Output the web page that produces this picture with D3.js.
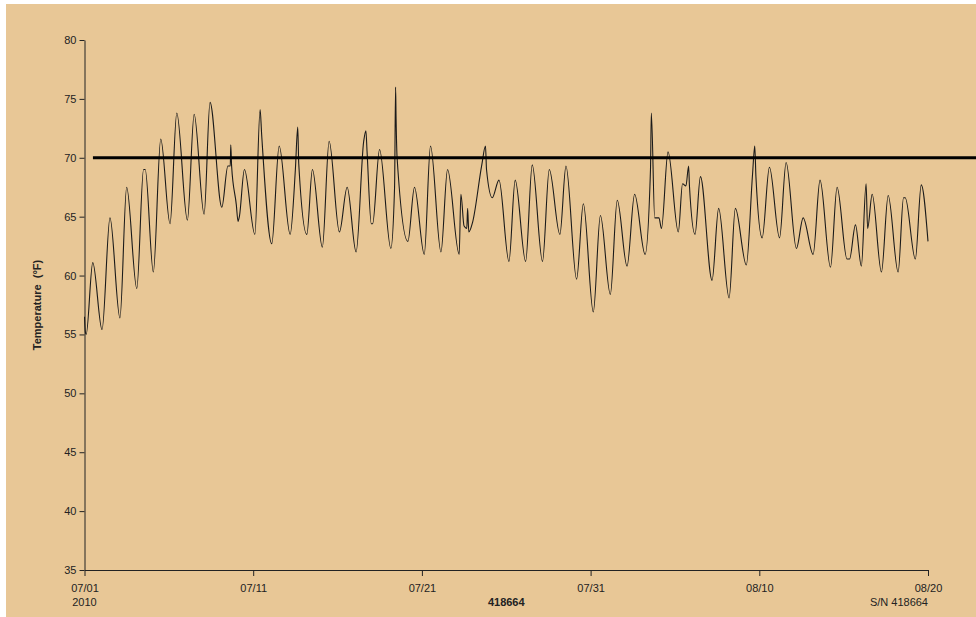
<!DOCTYPE html>
<html>
<head>
<meta charset="utf-8">
<script src="https://cdn.jsdelivr.net/npm/d3@7"></script>
<style>
html,body{margin:0;padding:0;background:#fff;}
svg{display:block;}
text{font-family:"Liberation Sans",Arial,sans-serif;font-size:11px;fill:#222;}
</style>
</head>
<body>
<script>
// ---- Data ----
// days since 2010-07-01 00:00
const sampleDays = [
  0.0, 0.05, 0.1, 0.49, 1.04, 1.51, 2.1, 2.5, 3.1, 3.5, 3.6, 4.08, 4.52, 5.07, 5.47, 6.1, 6.5, 7.09, 7.44, 8.14,
  8.5, 8.64, 8.67, 8.72, 9.0, 9.1, 9.18, 9.48, 10.1, 10.41, 10.5, 11.1, 11.54, 12.19, 12.5, 12.64, 12.7, 13.18, 13.51, 14.1,
  14.5, 15.11, 15.57, 16.1, 16.55, 16.68, 16.75, 17.0, 17.08, 17.49, 18.16, 18.38, 18.44, 18.47, 18.53, 19.17, 19.56, 20.14, 20.51, 21.13,
  21.52, 22.21, 22.31, 22.5, 22.66, 22.71, 22.78, 23.0, 23.55, 23.77, 23.83, 24.17, 24.57, 25.16, 25.53, 26.15, 26.54, 27.15, 27.55, 28.18,
  28.54, 29.17, 29.57, 30.16, 30.58, 31.17, 31.58, 32.16, 32.61, 33.23, 33.55, 33.6, 33.8, 34.05, 34.2, 34.59, 35.2, 35.45, 35.65, 35.81,
  35.86, 36.19, 36.51, 37.2, 37.59, 38.21, 38.58, 39.23, 39.6, 39.73, 39.8, 40.17, 40.6, 41.2, 41.59, 42.2, 42.6, 43.19, 43.6, 44.22,
  44.61, 45.2, 45.35, 45.7, 46.05, 46.33, 46.42, 46.69, 47.24, 47.64, 48.23, 48.55, 48.65, 49.25, 49.6, 50.0
];
const temperatures = [
  56.5, 55.2, 55.0, 61.1, 55.4, 64.9, 56.4, 67.5, 58.9, 69.0, 69.0, 60.3, 71.6, 64.4, 73.8, 64.7, 73.7, 65.2, 74.7, 65.8,
  69.3, 69.3, 71.1, 69.3, 66.0, 64.6, 65.0, 69.0, 63.5, 74.1, 72.0, 62.7, 71.0, 63.5, 69.0, 72.6, 69.5, 63.5, 69.0, 62.4,
  71.4, 63.7, 67.5, 62.0, 71.4, 72.3, 70.5, 64.4, 64.4, 70.7, 62.3, 67.5, 76.0, 73.3, 70.0, 62.9, 67.5, 61.8, 71.0, 62.0,
  69.0, 61.8, 66.9, 64.2, 64.0, 65.7, 63.7, 64.5, 69.4, 71.0, 69.0, 66.6, 68.1, 61.2, 68.1, 61.2, 69.4, 61.2, 69.0, 63.5,
  69.3, 59.7, 66.1, 56.9, 65.1, 58.4, 66.4, 60.8, 66.9, 61.8, 69.0, 73.8, 64.9, 64.9, 64.0, 70.5, 63.7, 67.8, 67.6, 69.3,
  67.6, 63.5, 68.4, 59.6, 65.7, 58.1, 65.7, 60.9, 68.6, 71.0, 68.4, 63.2, 69.2, 63.2, 69.6, 62.3, 64.9, 61.8, 68.1, 60.7,
  67.5, 61.4, 61.4, 64.3, 60.8, 67.8, 64.0, 66.9, 60.3, 66.8, 60.3, 66.6, 66.6, 61.4, 67.7, 62.9
];
const threshold = 70;
const thresholdSpanDays = [0.5, 52.9];
const xTickDates = ["2010-07-01", "2010-07-11", "2010-07-21", "2010-07-31", "2010-08-10", "2010-08-20"];
const xTickLabels = ["07/01", "07/11", "07/21", "07/31", "08/10", "08/20"];
const yTicks = [35, 40, 45, 50, 55, 60, 65, 70, 75, 80];
const yLabel = "Temperature\u00A0\u00A0(°F)";
const yearLabel = "2010";
const loggerId = "418664";
const serialLabel = "S/N 418664";

// ---- Layout ----
const W = 976, H = 617;
const margin = {left: 84.5, right: 48, top: 40, bottom: 47};
const parse = d3.timeParse("%Y-%m-%d");
const t0 = parse("2010-07-01");
const toDate = d => new Date(t0.getTime() + d * 864e5);

const x = d3.scaleTime()
  .domain([parse(xTickDates[0]), parse(xTickDates[xTickDates.length - 1])])
  .range([margin.left, W - margin.right]);
const y = d3.scaleLinear().domain([35, 80]).range([H - margin.bottom, margin.top]);

const svg = d3.select("body").append("svg").attr("width", W).attr("height", H);
svg.append("rect").attr("x", 6).attr("y", 4).attr("width", W - 6).attr("height", H - 4)
  .attr("fill", "rgb(232,199,150)");

// axes
const yAxis = d3.axisLeft(y).tickValues(yTicks).tickSize(5).tickSizeOuter(0).tickPadding(3);
const gy = svg.append("g").attr("transform", `translate(${margin.left},0)`).call(yAxis);
const xAxis = d3.axisBottom(x).tickValues(xTickDates.map(parse))
  .tickFormat((d, i) => xTickLabels[i]).tickSize(6).tickSizeOuter(0).tickPadding(8);
const gx = svg.append("g").attr("transform", `translate(0,${H - margin.bottom})`).call(xAxis);
[gx, gy].forEach(g => {
  g.selectAll("path.domain").attr("stroke", "#222").attr("stroke-width", 1);
  g.selectAll(".tick line").attr("stroke", "#222");
  g.selectAll("text").attr("font-size", 11).attr("font-family", "Liberation Sans, Arial, sans-serif").attr("fill", "#222");
});

// data line
const data = sampleDays.map((d, i) => ({t: toDate(d), v: temperatures[i]}));
const line = d3.line().x(d => x(d.t)).y(d => y(d.v)).curve(d3.curveMonotoneX);
svg.append("path").datum(data).attr("d", line)
  .attr("fill", "none").attr("stroke", "#1a1a1a").attr("stroke-width", 1.1);

// threshold line
svg.append("line")
  .attr("x1", x(toDate(thresholdSpanDays[0]))).attr("x2", x(toDate(thresholdSpanDays[1])))
  .attr("y1", y(threshold)).attr("y2", y(threshold))
  .attr("stroke", "#000").attr("stroke-width", 3);

// labels
svg.append("text").attr("x", x(parse(xTickDates[0]))).attr("y", H - margin.bottom + 36)
  .attr("text-anchor", "middle").text(yearLabel);
svg.append("text").attr("x", (margin.left + W - margin.right) / 2).attr("y", H - margin.bottom + 36)
  .attr("text-anchor", "middle").attr("font-weight", "bold").text(loggerId);
svg.append("text").attr("x", W - margin.right).attr("y", H - margin.bottom + 36)
  .attr("text-anchor", "end").text(serialLabel);
svg.append("text")
  .attr("transform", `translate(41,${(y(35) + y(80)) / 2}) rotate(-90)`)
  .attr("text-anchor", "middle").attr("font-weight", "bold").attr("font-size", 11).text(yLabel);
</script>
</body>
</html>
